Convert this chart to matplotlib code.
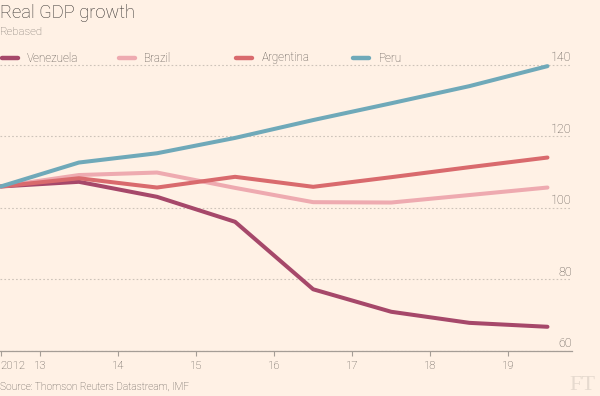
import matplotlib.pyplot as plt
from matplotlib.lines import Line2D
import matplotlib.transforms as mtransforms

plt.rcParams['font.family'] = ['Roboto', 'Liberation Sans', 'DejaVu Sans']
plt.rcParams['font.weight'] = 'light'

# data, points sit at mid-year
years = [2012.5, 2013.5, 2014.5, 2015.5, 2016.5, 2017.5, 2018.5, 2019.5]
venezuela = [106.0, 107.3, 103.1, 96.1, 77.2, 70.9, 67.8, 66.7]
brazil = [106.0, 109.2, 109.9, 105.6, 101.6, 101.5, 103.6, 105.7]
argentina = [106.0, 108.3, 105.7, 108.7, 105.9, 108.6, 111.4, 114.1]
peru = [106.0, 112.7, 115.3, 119.6, 124.6, 129.3, 134.1, 139.7]

names = ["Venezuela", "Brazil", "Argentina", "Peru"]
colors = ["#a6486a", "#eeaab0", "#d96a6d", "#6fa9b9"]

xtick_pos = [2012.5, 2013, 2014, 2015, 2016, 2017, 2018, 2019]
xtick_labels = ["2012", "13", "14", "15", "16", "17", "18", "19"]
yticks = [60, 80, 100, 120, 140]

BG = "#fff1e5"
TXT = "#57514c"

fig = plt.figure(figsize=(6, 3.96), dpi=100, facecolor=BG)
ax = fig.add_axes([0, 0.1144, 0.9528, 0.7303], facecolor=BG)

for series, c in zip([venezuela, brazil, argentina, peru], colors):
    ax.plot(years, series, color=c, lw=2.9, solid_capstyle="round", solid_joinstyle="round", zorder=3)

ax.set_xlim(2012.49, 2019.81)
ax.set_ylim(60, 141)

ax.set_xticks(xtick_pos)
ax.set_xticklabels(xtick_labels)
ax.xaxis.get_majorticklabels()[0].set_horizontalalignment("left")
ax.tick_params(axis="x", direction="out", length=3.5, width=0.8, color="#a59d96",
               labelsize=8.2, labelcolor=TXT, pad=4)

ax.set_yticks(yticks)
ax.tick_params(axis="y", left=False, labelleft=False)
ax.grid(axis="y", color="#cdc3b9", lw=0.8, linestyle=(0, (1.5, 2)))
ax.set_axisbelow(True)

for s in ["top", "right", "left"]:
    ax.spines[s].set_visible(False)
ax.spines["bottom"].set_color("#a59d96")
ax.spines["bottom"].set_linewidth(0.9)
ax.spines["bottom"].set_zorder(4)

trans = mtransforms.blended_transform_factory(ax.transAxes, ax.transData)
for v in yticks:
    ax.annotate(str(v), xy=(1, v), xycoords=trans, xytext=(0, 2.7), textcoords="offset points",
                ha="right", va="baseline", fontsize=9, color=TXT)

# legend row
W, H = 600, 396
for i, (n, c) in enumerate(zip(names, colors)):
    x0 = 1.5 + i * 117.2
    y = 1 - 58 / H
    fig.add_artist(Line2D([x0 / W, (x0 + 16) / W], [y, y], color=c, lw=3.2,
                          solid_capstyle="round", transform=fig.transFigure))
    fig.text((x0 + 25.5) / W, y, n, fontsize=8.4, color=TXT, va="center", ha="left")

fig.text(0, 1 - 18.3 / H, "Real GDP growth", fontsize=13.2, color="#33302e",
         va="baseline", ha="left")
fig.text(0, 1 - 35 / H, "Rebased", fontsize=8.2, color="#77706a", va="baseline", ha="left")
fig.text(0, 1 - 389.5 / H, "Source: Thomson Reuters Datastream, IMF", fontsize=7.3,
         color=TXT, va="baseline", ha="left")
fig.text(595 / W, 1 - 390.5 / H, "FT", fontsize=16, color="#e6dacf", weight="normal",
         family=["Liberation Serif", "DejaVu Serif"], va="baseline", ha="right")

fig.savefig("out.png", dpi=100, facecolor=BG)
